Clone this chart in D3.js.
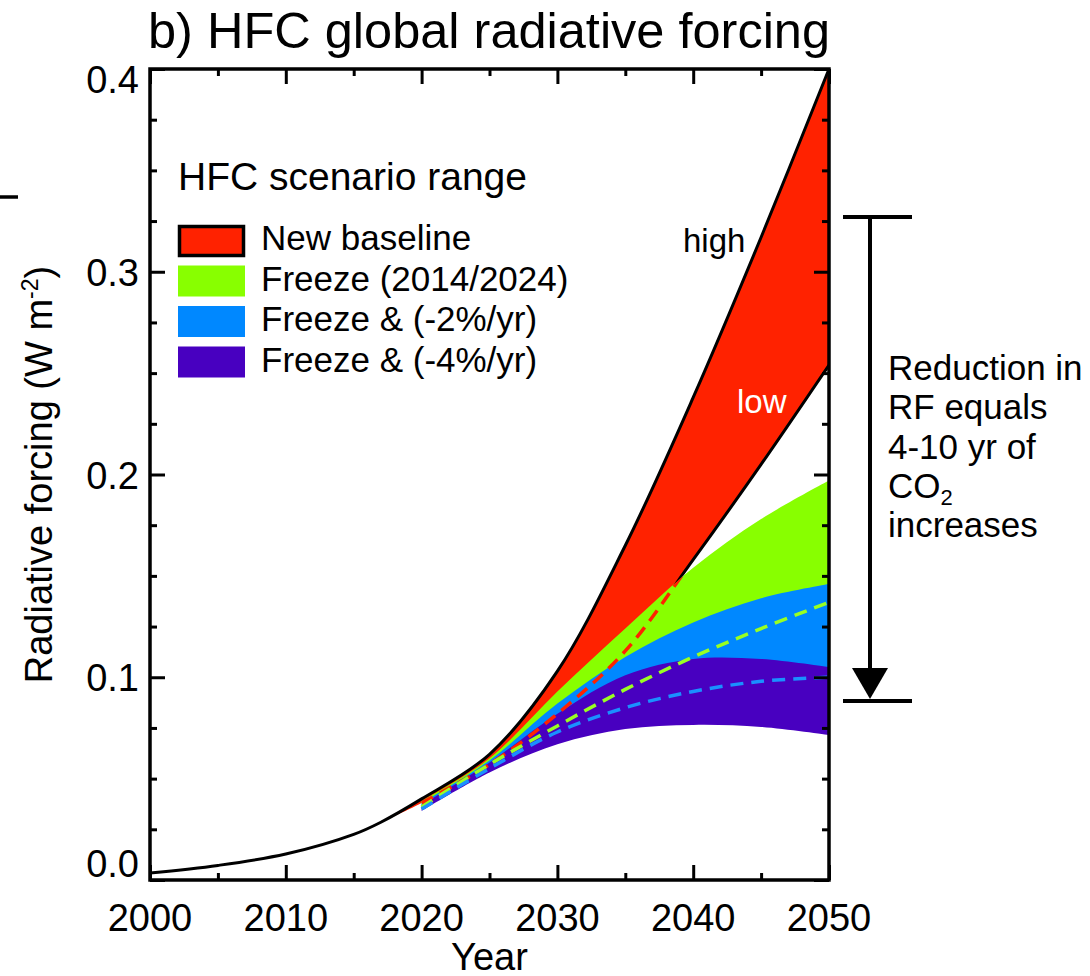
<!DOCTYPE html>
<html>
<head>
<meta charset="utf-8">
<script src="https://cdn.jsdelivr.net/npm/d3@7"></script>
<style>
  body { margin: 0; background: #fff; }
  text { font-family: "Liberation Sans", Arial, Helvetica, sans-serif; fill: #000; }
</style>
</head>
<body>
<script>
// chart values (W m-2)
var histYears = [2000, 2005, 2010, 2015, 2017];
var histRF = [0.0035, 0.0072, 0.0128, 0.0225, 0.0285];

var baseYears = [2017, 2020, 2025, 2030, 2035, 2040, 2045, 2050];
var baseHigh = [0.0285, 0.040, 0.062, 0.103, 0.165, 0.238, 0.317, 0.400];
var baseLow = [0.0285, 0.038, 0.057, 0.082, 0.113, 0.158, 0.205, 0.254];

var scenYears = [2020, 2025, 2030, 2035, 2040, 2045, 2050];
var freezeHigh = [0.039, 0.060, 0.093, 0.124, 0.154, 0.178, 0.197];
var freezeLow = [0.036, 0.057, 0.076, 0.094, 0.110, 0.124, 0.137];
var cut2High = [0.038, 0.059, 0.087, 0.110, 0.127, 0.139, 0.146];
var cut2Low = [0.035, 0.055, 0.073, 0.085, 0.093, 0.098, 0.100];
var cut4High = [0.037, 0.058, 0.082, 0.101, 0.109, 0.109, 0.105];
var cut4Low = [0.034, 0.053, 0.067, 0.0745, 0.0765, 0.0755, 0.0715];

var legendNames = ["New baseline", "Freeze (2014/2024)", "Freeze & (-2%/yr)", "Freeze & (-4%/yr)"];
var legendColors = ["#ff2200", "#88ff00", "#0088ff", "#4800c0"];

var xMajor = [2000, 2010, 2020, 2030, 2040, 2050];
var xMinor = [2005, 2015, 2025, 2035, 2045];
var yMajor = [0.0, 0.1, 0.2, 0.3, 0.4];
var yMinor = [0.025, 0.05, 0.075, 0.125, 0.15, 0.175, 0.225, 0.25, 0.275, 0.325, 0.35, 0.375];

var noteLines = ["Reduction in", "RF equals", "4-10 yr of", "CO", "increases"];

window.onload = function(){
    //--- svg
    var w = 1090, h = 976;
    var svg = d3.select("body").append("svg")
        .attr("width", w)
        .attr("height", h);

    var pL = 150, pR = 829, pT = 69, pB = 880;

    var x = d3.scaleLinear().domain([2000, 2050]).range([pL, pR]);
    var y = d3.scaleLinear().domain([0, 0.4]).range([pB, pT]);

    function zipp(xs, ys){
        return xs.map(function(d, i){ return [d, ys[i]]; });
    }
    function band(xs, hi, lo){
        return xs.map(function(d, i){ return [d, hi[i], lo[i]]; });
    }

    var curve = d3.curveCatmullRom.alpha(0.5);
    var area = d3.area()
        .x(function(d){ return x(d[0]); })
        .y0(function(d){ return y(d[2]); })
        .y1(function(d){ return y(d[1]); })
        .curve(curve);
    var line = d3.line()
        .x(function(d){ return x(d[0]); })
        .y(function(d){ return y(d[1]); })
        .curve(curve);

    // clip regions: above / below the freeze upper edge
    var defs = svg.append("defs");
    defs.append("clipPath").attr("id", "aboveFreeze")
        .append("path")
        .attr("d", area(scenYears.map(function(d, i){ return [d, 0.45, freezeHigh[i]]; })));
    defs.append("clipPath").attr("id", "belowFreeze")
        .append("path")
        .attr("d", area(scenYears.map(function(d, i){ return [d, freezeHigh[i], -0.05]; })));

    var plot = svg.append("g");

    // filled scenario ranges
    plot.append("path").attr("d", area(band(baseYears, baseHigh, baseLow))).style("fill", legendColors[0]);
    plot.append("path").attr("d", area(band(scenYears, freezeHigh, freezeLow))).style("fill", legendColors[1]);
    plot.append("path").attr("d", area(band(scenYears, cut2High, cut2Low))).style("fill", legendColors[2]);
    plot.append("path").attr("d", area(band(scenYears, cut4High, cut4Low))).style("fill", legendColors[3]);

    // lower edges hidden under the next range, drawn dashed
    plot.append("path")
        .attr("d", line(zipp(baseYears.slice(1), baseLow.slice(1))))
        .attr("clip-path", "url(#belowFreeze)")
        .style("fill", "none").style("stroke", legendColors[0])
        .style("stroke-width", 3.5).style("stroke-dasharray", "13,8");
    plot.append("path")
        .attr("d", line(zipp(scenYears, freezeLow)))
        .style("fill", "none").style("stroke", "#99ff22")
        .style("stroke-width", 3.5).style("stroke-dasharray", "13,8");
    plot.append("path")
        .attr("d", line(zipp(scenYears, cut2Low)))
        .style("fill", "none").style("stroke", "#1a90ff")
        .style("stroke-width", 3.5).style("stroke-dasharray", "13,8");

    // black lines: history + high baseline, and visible part of low baseline
    plot.append("path")
        .attr("d", line(zipp(histYears, histRF).concat(zipp(baseYears.slice(1), baseHigh.slice(1)))))
        .style("fill", "none").style("stroke", "#000").style("stroke-width", 3);
    plot.append("path")
        .attr("d", line(zipp(baseYears.slice(1), baseLow.slice(1))))
        .attr("clip-path", "url(#aboveFreeze)")
        .style("fill", "none").style("stroke", "#000").style("stroke-width", 3);

    //--- axes, ticks point inward on all four sides
    function styleAxis(g){
        g.select(".domain").remove();
        g.selectAll(".tick line").style("stroke", "#000").style("stroke-width", 3);
        g.selectAll("text").remove();
    }
    var axes = [
        [d3.axisBottom, x, xMajor, xMinor, "translate(0," + pB + ")"],
        [d3.axisTop, x, xMajor, xMinor, "translate(0," + pT + ")"],
        [d3.axisLeft, y, yMajor, yMinor, "translate(" + pL + ",0)"],
        [d3.axisRight, y, yMajor, yMinor, "translate(" + pR + ",0)"]
    ];
    axes.forEach(function(a){
        svg.append("g").attr("transform", a[4])
            .call(a[0](a[1]).tickValues(a[2]).tickSize(-15)).call(styleAxis);
        svg.append("g").attr("transform", a[4])
            .call(a[0](a[1]).tickValues(a[3]).tickSize(-7)).call(styleAxis);
    });

    svg.append("rect")
        .attr("x", pL).attr("y", pT)
        .attr("width", pR - pL).attr("height", pB - pT)
        .style("fill", "none").style("stroke", "#000").style("stroke-width", 3.5);

    // tick labels
    svg.selectAll(".xlab").data(xMajor).enter().append("text")
        .attr("class", "xlab")
        .attr("x", function(d){ return x(d); })
        .attr("y", 931)
        .attr("text-anchor", "middle")
        .style("font-size", "38px")
        .text(function(d){ return d; });

    svg.selectAll(".ylab").data(yMajor).enter().append("text")
        .attr("class", "ylab")
        .attr("x", 139)
        .attr("y", function(d){
            var yy = Math.min(Math.max(y(d), pT + 10), pB - 17);
            return yy + 14;
        })
        .attr("text-anchor", "end")
        .style("font-size", "38px")
        .text(function(d){ return d.toFixed(1); });

    svg.append("text")
        .attr("x", (pL + pR) / 2).attr("y", 970)
        .attr("text-anchor", "middle")
        .style("font-size", "38px")
        .text("Year");

    var ytitle = svg.append("text")
        .attr("transform", "translate(52," + ((pT + pB) / 2) + ") rotate(-90)")
        .attr("text-anchor", "middle")
        .style("font-size", "38px");
    ytitle.append("tspan").text("Radiative forcing (W m");
    ytitle.append("tspan").attr("dy", -14).style("font-size", "23px").text("-2");
    ytitle.append("tspan").attr("dy", 14).text(")");

    // title
    svg.append("text")
        .attr("x", 148).attr("y", 48)
        .style("font-size", "50.5px")
        .text("b) HFC global radiative forcing");

    // stray tick from neighbouring panel
    svg.append("line")
        .attr("x1", 0).attr("x2", 18).attr("y1", 197).attr("y2", 197)
        .style("stroke", "#000").style("stroke-width", 3.5);

    //--- legend
    svg.append("text")
        .attr("x", 178).attr("y", 190)
        .style("font-size", "39px")
        .text("HFC scenario range");

    var legend = svg.selectAll(".legend").data(legendNames).enter().append("g")
        .attr("class", "legend")
        .attr("transform", function(d, i){ return "translate(178," + (225 + i * 40.5) + ")"; });
    legend.append("rect")
        .attr("x", function(d, i){ return i === 0 ? 1.5 : 0; })
        .attr("y", function(d, i){ return i === 0 ? 1.5 : 0; })
        .attr("width", function(d, i){ return i === 0 ? 64 : 67; })
        .attr("height", function(d, i){ return i === 0 ? 29 : 31; })
        .style("fill", function(d, i){ return legendColors[i]; })
        .style("stroke", function(d, i){ return i === 0 ? "#000" : "none"; })
        .style("stroke-width", 3.5);
    legend.append("text")
        .attr("x", 83).attr("y", 25)
        .style("font-size", "35px")
        .text(function(d){ return d; });

    // high / low labels
    svg.append("text")
        .attr("x", 683).attr("y", 252)
        .style("font-size", "33px")
        .text("high");
    svg.append("text")
        .attr("x", 737).attr("y", 413)
        .style("font-size", "33px").style("fill", "#fff")
        .text("low");

    //--- reduction bracket: from mid of baseline range to mid of -4%/yr range in 2050
    var last = baseYears.length - 1, lastS = scenYears.length - 1;
    var yTopB = y((baseHigh[last] + baseLow[last]) / 2);
    var yBotB = y((cut4High[lastS] + cut4Low[lastS]) / 2);
    var bx = pR + 41;
    var bracket = svg.append("g").style("stroke", "#000").style("stroke-width", 4);
    bracket.append("line").attr("x1", bx - 27).attr("x2", bx + 42).attr("y1", yTopB).attr("y2", yTopB);
    bracket.append("line").attr("x1", bx - 27).attr("x2", bx + 42).attr("y1", yBotB).attr("y2", yBotB);
    bracket.append("line").attr("x1", bx).attr("x2", bx).attr("y1", yTopB).attr("y2", yBotB - 20);
    svg.append("path")
        .attr("d", "M" + (bx - 18) + "," + (yBotB - 33) + "L" + (bx + 18) + "," + (yBotB - 33) + "L" + bx + "," + (yBotB - 2) + "Z")
        .style("fill", "#000");

    var note = svg.selectAll(".note").data(noteLines).enter().append("text")
        .attr("class", "note")
        .attr("x", 888)
        .attr("y", function(d, i){ return 380 + i * 39.3; })
        .style("font-size", "35px")
        .text(function(d){ return d; });
    note.filter(function(d){ return d === "CO"; })
        .append("tspan").attr("dy", 7).style("font-size", "22px").text("2");
};
</script>
</body>
</html>
